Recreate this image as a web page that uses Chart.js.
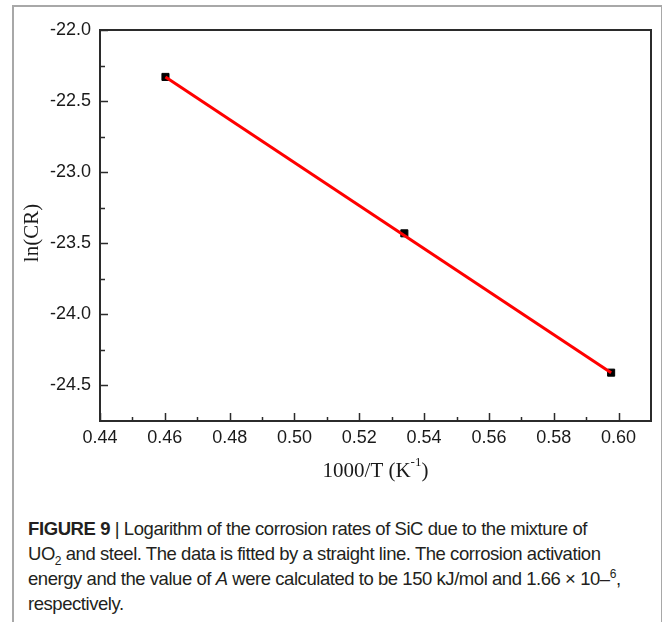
<!DOCTYPE html>
<html>
<head>
<meta charset="utf-8">
<script src="https://cdn.jsdelivr.net/npm/chart.js@4.4.1/dist/chart.umd.min.js"></script>
<style>
  html, body { margin: 0; padding: 0; background: #fff; width: 662px; height: 622px; overflow: hidden; }
  .frame { position: absolute; left: 12px; top: 5px; width: 647px; height: 700px; border: 2px solid #a8a8a8; box-sizing: content-box; }
  .chartBox { position: absolute; left: 0; top: 0; width: 662px; height: 500px; }
  .caption { position: absolute; left: 28px; top: 516px; font-family: "Liberation Sans", Arial, sans-serif; font-size: 18.5px; line-height: 25px; color: #231f20; white-space: nowrap; }
  .caption div { letter-spacing: -0.45px; }
  .caption b { font-weight: bold; letter-spacing: -0.4px; }
  .caption sub, .caption sup { font-size: 12px; line-height: 0; }
</style>
</head>
<body>
<div class="frame"></div>
<div class="chartBox"><canvas id="chart" width="662" height="500"></canvas></div>
<div class="caption">
  <div><b>FIGURE 9</b> | Logarithm of the corrosion rates of SiC due to the mixture of</div>
  <div>UO<sub>2</sub> and steel. The data is fitted by a straight line. The corrosion activation</div>
  <div>energy and the value of <i>A</i> were calculated to be 150 kJ/mol and 1.66 × 10–<sup>6</sup>,</div>
  <div>respectively.</div>
</div>
<script>
// measured points, 1000/T vs ln(CR)
const invTemp = [0.4602, 0.5339, 0.5977];
const lnCR = [-22.33, -23.43, -24.41];

// fitted straight line (end points)
const fitX = [0.4602, 0.5977];
const fitY = [-22.33, -24.41];

const xTicks = [0.44, 0.46, 0.48, 0.50, 0.52, 0.54, 0.56, 0.58, 0.60];
const yTicks = [-22.0, -22.5, -23.0, -23.5, -24.0, -24.5];

const axisColor = '#2b2b2b';

// frame, inward ticks (major + minor) and axis titles
const framePlugin = {
  id: 'frame',
  afterDraw(chart) {
    const { ctx, chartArea: a, scales: { x, y } } = chart;
    ctx.save();
    ctx.strokeStyle = axisColor;
    ctx.lineWidth = 2;
    ctx.strokeRect(a.left, a.top, a.right - a.left, a.bottom - a.top);

    ctx.lineWidth = 1.5;
    ctx.beginPath();
    xTicks.forEach(v => {
      const px = Math.round(x.getPixelForValue(v)) + 0.5;
      ctx.moveTo(px, a.bottom);
      ctx.lineTo(px, a.bottom - 8);
      const mid = x.getPixelForValue(v + 0.01);
      if (mid < a.right - 2) {
        ctx.moveTo(Math.round(mid) + 0.5, a.bottom);
        ctx.lineTo(Math.round(mid) + 0.5, a.bottom - 4);
      }
    });
    yTicks.forEach(v => {
      const py = Math.round(y.getPixelForValue(v)) + 0.5;
      ctx.moveTo(a.left, py);
      ctx.lineTo(a.left + 8, py);
      const mid = y.getPixelForValue(v - 0.25);
      if (mid < a.bottom - 2) {
        ctx.moveTo(a.left, Math.round(mid) + 0.5);
        ctx.lineTo(a.left + 5, Math.round(mid) + 0.5);
      }
    });
    ctx.stroke();

    // axis titles
    const big = '21px "Liberation Serif", "Times New Roman", serif';
    const small = '13px "Liberation Serif", "Times New Roman", serif';
    ctx.fillStyle = '#1a1a1a';
    ctx.textBaseline = 'middle';
    ctx.font = big;
    const main = '1000/T (K';
    const sup = '-1';
    const close = ')';
    const wMain = ctx.measureText(main).width;
    const wClose = ctx.measureText(close).width;
    ctx.font = small;
    const wSup = ctx.measureText(sup).width;
    const cx = (a.left + a.right) / 2;
    let tx = cx - (wMain + wSup + wClose) / 2;
    const ty = 471;
    ctx.textAlign = 'left';
    ctx.font = big;
    ctx.fillText(main, tx, ty);
    tx += wMain;
    ctx.font = small;
    ctx.fillText(sup, tx, ty - 8);
    tx += wSup;
    ctx.font = big;
    ctx.fillText(close, tx, ty);

    ctx.translate(32, 233);
    ctx.rotate(-Math.PI / 2);
    ctx.textAlign = 'center';
    ctx.fillText('ln(CR)', 0, 0);
    ctx.restore();
  }
};

new Chart(document.getElementById('chart'), {
  type: 'scatter',
  data: {
    datasets: [
      {
        type: 'line',
        data: fitX.map((v, i) => ({ x: v, y: fitY[i] })),
        borderColor: '#ff0000',
        borderWidth: 3,
        pointRadius: 0,
        fill: false,
        order: 1
      },
      {
        data: invTemp.map((v, i) => ({ x: v, y: lnCR[i] })),
        pointStyle: 'rect',
        pointRadius: 5,
        backgroundColor: '#000',
        borderColor: '#000',
        borderWidth: 1,
        order: 2
      }
    ]
  },
  options: {
    responsive: false,
    animation: false,
    layout: { padding: { left: 0, top: 30, right: 11, bottom: 0 } },
    plugins: { legend: { display: false }, tooltip: { enabled: false } },
    scales: {
      x: {
        type: 'linear',
        min: 0.44,
        max: 0.61,
        afterFit: s => { s.height = 79; },
        afterBuildTicks: s => { s.ticks = xTicks.map(v => ({ value: v })); },
        grid: { display: false, drawTicks: false },
        border: { display: false },
        ticks: {
          padding: 6,
          color: '#1a1a1a',
          font: { family: '"Liberation Sans", Arial, sans-serif', size: 18 },
          callback: v => v.toFixed(2)
        }
      },
      y: {
        type: 'linear',
        min: -24.75,
        max: -22.0,
        afterFit: s => { s.width = 100; },
        afterBuildTicks: s => { s.ticks = yTicks.map(v => ({ value: v })); },
        grid: { display: false, drawTicks: false },
        border: { display: false },
        ticks: {
          padding: 9,
          color: '#1a1a1a',
          font: { family: '"Liberation Sans", Arial, sans-serif', size: 18 },
          callback: v => v.toFixed(1)
        }
      }
    }
  },
  plugins: [framePlugin]
});
</script>
</body>
</html>
